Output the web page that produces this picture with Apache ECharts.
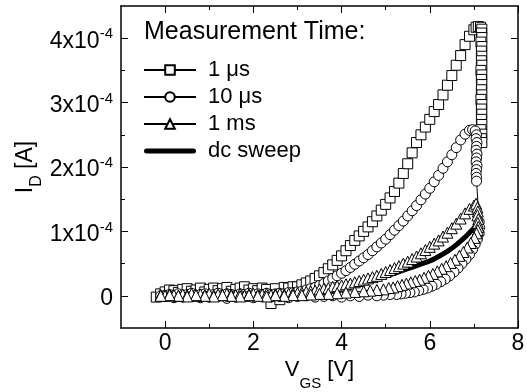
<!DOCTYPE html>
<html><head><meta charset="utf-8">
<script src="https://cdn.jsdelivr.net/npm/echarts@6/dist/echarts.min.js"></script>
<style>html,body{margin:0;padding:0;background:#fff}#c{width:527px;height:392px}</style>
</head><body><div id="c"></div>
<script>
// Drain current I_D in units of 1e-4 A versus gate voltage V_GS [V]
const seriesNames = ['1 \u03bcs', '10 \u03bcs', '1 ms', 'dc sweep'];
const xTicks = [0, 2, 4, 6, 8];
const xMinor = [1, 3, 5, 7];
const yTicks = [0, 1, 2, 3, 4];
const yMinor = [0.5, 1.5, 2.5, 3.5];

const sq1us = [
[-0.2,-0.02],[-0.1,0.03],[0.0,0.06],[0.1,0.09],[0.2,0.08],[0.3,0.05],[0.4,0.10],[0.5,0.11],[0.6,0.07],[0.7,0.09],[0.8,0.12],[0.9,0.06],[1.0,0.10],[1.1,0.12],[1.2,0.08],[1.3,0.11],[1.4,0.13],[1.5,0.07],[1.6,0.10],[1.7,0.12],[1.8,0.14],[1.9,0.09],[2.0,0.11],[2.1,0.08],[2.2,0.12],[2.3,0.10],[2.4,-0.12],[2.5,0.11],[2.6,-0.06],[2.7,0.13],[2.8,0.12],[2.9,0.14],
[3.0,0.14],[3.1,0.17],[3.2,0.20],[3.3,0.23],[3.4,0.27],[3.5,0.31],[3.6,0.36],[3.7,0.42],[3.8,0.48],[3.9,0.55],[4.0,0.62],[4.1,0.70],[4.2,0.78],[4.3,0.86],[4.4,0.93],[4.5,1.00],[4.6,1.07],[4.7,1.15],[4.8,1.24],[4.9,1.33],[5.0,1.42],[5.1,1.52],[5.2,1.62],[5.3,1.75],[5.4,1.90],[5.5,2.05],[5.6,2.22],[5.7,2.38],[5.8,2.50],[5.9,2.62],[6.0,2.74],[6.1,2.86],[6.2,2.97],[6.3,3.12],[6.4,3.27],[6.5,3.42],[6.6,3.58],[6.7,3.73],[6.8,3.90],[6.9,4.03],[7.0,4.13],[7.05,4.17],[7.1,4.18],[7.15,4.17],[7.18,4.14],
[7.17,4.08],[7.18,4.01],[7.16,3.94],[7.18,3.87],[7.17,3.80],[7.18,3.72],[7.17,3.65],[7.18,3.58],[7.16,3.50],[7.18,3.43],[7.17,3.36],[7.18,3.28],[7.17,3.20],[7.18,3.12],[7.16,3.05],[7.18,2.97],[7.17,2.90],[7.18,2.82],[7.17,2.74],[7.18,2.66],[7.16,2.58],[7.18,2.51],[7.17,2.44],[7.18,2.38]
];

const ci10us = [
[-0.1,0.00],[0.0,0.01],[0.1,0.02],[0.2,0.00],[0.3,0.03],[0.4,0.01],[0.5,0.02],[0.6,0.04],[0.7,0.01],[0.8,0.02],[0.9,0.03],[1.0,0.00],[1.1,0.02],[1.2,0.04],[1.3,0.01],[1.4,0.03],[1.5,0.02],[1.6,0.00],[1.7,0.03],[1.8,0.02],[1.9,0.04],[2.0,0.01],[2.1,0.03],[2.2,0.02],[2.3,0.04],[2.4,0.02],[2.5,0.03],[2.6,0.04],[2.7,0.03],[2.8,0.05],[2.9,0.05],
[3.0,0.06],[3.1,0.07],[3.2,0.09],[3.3,0.11],[3.4,0.13],[3.5,0.16],[3.6,0.19],[3.7,0.23],[3.8,0.27],[3.9,0.31],[4.0,0.35],[4.1,0.39],[4.2,0.44],[4.3,0.49],[4.4,0.54],[4.5,0.59],[4.6,0.64],[4.7,0.70],[4.8,0.76],[4.9,0.82],[5.0,0.88],[5.1,0.95],[5.2,1.02],[5.3,1.09],[5.4,1.16],[5.5,1.24],[5.6,1.32],[5.7,1.40],[5.8,1.49],[5.9,1.58],[6.0,1.67],[6.1,1.77],[6.2,1.87],[6.3,1.98],[6.4,2.08],[6.5,2.19],[6.6,2.30],[6.7,2.42],[6.8,2.51],[6.9,2.57],[6.97,2.58],[7.03,2.56],
[7.06,2.50],[7.05,2.44],[7.07,2.38],[7.06,2.32],[7.05,2.26],[7.07,2.20],[7.06,2.14],[7.05,2.08],[7.07,2.02],[7.06,1.96],[7.05,1.90],[7.06,1.84],[7.06,1.78],
[7.12,1.15],[7.13,1.06],[7.12,0.97],[7.08,0.88],[7.03,0.80],[6.97,0.72],[6.90,0.64],[6.82,0.57],[6.73,0.50],[6.64,0.43],[6.55,0.37],[6.45,0.31],[6.35,0.26],[6.25,0.22],[6.15,0.18],[6.05,0.15],[5.95,0.12],[5.85,0.10],[5.75,0.08],[5.65,0.06],[5.55,0.05],[5.45,0.04],[5.35,0.03],[5.25,0.02],[5.1,0.02],[4.95,0.01],[4.8,0.00],[4.6,0.01],[4.4,-0.01],[4.2,0.00],[4.0,-0.02],[3.8,0.00],[3.6,-0.01],[3.4,-0.02],[3.2,0.00],[3.0,-0.01],[2.8,-0.03],[2.6,-0.01],[2.4,-0.02],[2.2,0.00],[2.0,-0.03],[1.8,-0.01],[1.6,-0.02],[1.4,-0.04],[1.2,-0.01],[1.0,-0.02],[0.8,-0.03],[0.6,-0.01],[0.4,-0.02],[0.2,-0.03],[0.0,-0.01]
];

const tri1ms = [
[-0.1,0.01],[0.0,0.00],[0.1,0.02],[0.2,0.01],[0.3,0.00],[0.4,0.02],[0.5,0.01],[0.6,0.03],[0.7,0.00],[0.8,0.02],[0.9,0.01],[1.0,0.03],[1.1,0.00],[1.2,0.02],[1.3,0.01],[1.4,0.03],[1.5,0.02],[1.6,0.01],[1.7,0.03],[1.8,0.00],[1.9,0.02],[2.0,0.03],[2.1,0.01],[2.2,0.02],[2.3,0.03],[2.4,0.01],[2.5,0.02],[2.6,0.03],[2.7,0.02],[2.8,0.03],[2.9,0.04],
[3.0,0.04],[3.1,0.05],[3.2,0.06],[3.3,0.07],[3.4,0.08],[3.5,0.10],[3.6,0.11],[3.7,0.12],[3.8,0.14],[3.9,0.15],[4.0,0.16],[4.1,0.18],[4.2,0.19],[4.3,0.21],[4.4,0.23],[4.5,0.25],[4.6,0.27],[4.7,0.29],[4.8,0.31],[4.9,0.34],[5.0,0.37],[5.1,0.40],[5.2,0.43],[5.3,0.46],[5.4,0.50],[5.5,0.53],[5.6,0.57],[5.7,0.61],[5.8,0.66],[5.9,0.71],[6.0,0.76],[6.1,0.81],[6.2,0.86],[6.3,0.92],[6.4,0.98],[6.5,1.05],[6.6,1.12],[6.7,1.20],[6.8,1.28],[6.9,1.35],[7.0,1.40],[7.05,1.43],
[7.08,1.37],[7.09,1.31],[7.08,1.25],[7.10,1.19],[7.09,1.13],[7.10,1.07],[7.09,1.02],
[7.06,0.97],[7.01,0.90],[6.93,0.82],[6.85,0.75],[6.76,0.68],[6.67,0.62],[6.57,0.56],[6.47,0.51],[6.37,0.46],[6.27,0.42],[6.17,0.38],[6.07,0.34],[5.97,0.31],[5.87,0.28],[5.77,0.25],[5.67,0.23],[5.57,0.21],[5.47,0.19],[5.37,0.17],[5.27,0.15],[5.17,0.13],[5.07,0.12],[4.95,0.10],[4.8,0.09],[4.65,0.08],[4.5,0.07],[4.3,0.06],[4.1,0.05],[3.9,0.04],[3.7,0.03],[3.5,0.03],[3.3,0.02],[3.1,0.01],[2.9,0.01],[2.7,0.00],[2.5,0.01],[2.3,-0.01],[2.1,0.00],[1.9,0.01],[1.7,-0.01],[1.5,0.00],[1.3,0.01],[1.1,-0.01],[0.9,0.00],[0.7,0.01],[0.5,-0.01],[0.3,0.00],[0.1,0.01],[-0.1,0.00]
];

const dcSweep = [
[-0.1,0.0],[0.5,0.0],[1.0,0.0],[1.5,0.005],[2.0,0.01],[2.5,0.02],[3.0,0.04],[3.25,0.06],[3.5,0.08],[3.75,0.11],[4.0,0.14],[4.25,0.17],[4.5,0.21],[4.75,0.26],[5.0,0.31],[5.25,0.36],[5.5,0.42],[5.75,0.48],[6.0,0.54],[6.2,0.61],[6.4,0.69],[6.6,0.79],[6.8,0.91],[6.9,0.98],[7.0,1.05],[7.05,1.1]
];

const FONT = '"Liberation Sans", Arial, Helvetica, sans-serif';
const BLACK = '#000';

function xAx(pos, major, showLine) {
  return {
    type: 'value', position: pos, min: -1, max: 8,
    axisLine: { show: showLine, onZero: false, lineStyle: { color: BLACK, width: 1.5 } },
    axisTick: { show: true, inside: true, length: major ? 7 : 4, customValues: major ? xTicks : xMinor, lineStyle: { color: BLACK, width: 1 } },
    axisLabel: { show: false },
    splitLine: { show: false }
  };
}
function yAx(pos, major, showLine) {
  return {
    type: 'value', position: pos, min: -0.5, max: 4.5,
    axisLine: { show: showLine, onZero: false, lineStyle: { color: BLACK, width: 1.5 } },
    axisTick: { show: true, inside: true, length: major ? 7 : 4, customValues: major ? yTicks : yMinor, lineStyle: { color: BLACK, width: 1 } },
    axisLabel: { show: false },
    splitLine: { show: false }
  };
}

const xMain = xAx('bottom', true, true);
xMain.axisLabel = { show: true, customValues: xTicks, margin: 4, fontSize: 23, color: BLACK, fontFamily: FONT };
xMain.name = '{m|V}{sub|GS}{m| [V]}';
xMain.nameLocation = 'middle';
xMain.nameGap = 31;
xMain.nameMoveOverlap = false;
xMain.nameTextStyle = {
  color: BLACK, fontFamily: FONT,
  rich: {
    m: { fontSize: 22, lineHeight: 22, verticalAlign: 'top', fontFamily: FONT, color: BLACK },
    sub: { fontSize: 15, lineHeight: 15, padding: [17, 0, 0, 0], verticalAlign: 'top', fontFamily: FONT, color: BLACK }
  }
};

const yMain = yAx('left', true, true);
yMain.axisLabel = {
  show: true, customValues: yTicks, margin: 8, color: BLACK, fontFamily: FONT,
  formatter: function (v) { return v === 0 ? '{n|0}' : '{n|' + v + 'x10}{sup|-4}'; },
  rich: {
    n: { fontSize: 23, lineHeight: 23, padding: [3, 0, 0, 0], verticalAlign: 'top', fontFamily: FONT, color: BLACK },
    sup: { fontSize: 15, lineHeight: 15, verticalAlign: 'top', fontFamily: FONT, color: BLACK }
  }
};
yMain.name = '{m|I}{sub|D}{m| [A]}';
yMain.nameLocation = 'middle';
yMain.nameRotate = 90;
yMain.nameGap = 84;
yMain.nameMoveOverlap = false;
yMain.nameTextStyle = {
  color: BLACK, fontFamily: FONT,
  rich: {
    m: { fontSize: 23, lineHeight: 23, verticalAlign: 'top', fontFamily: FONT, color: BLACK },
    sub: { fontSize: 16, lineHeight: 16, padding: [15, 0, 0, 0], verticalAlign: 'top', fontFamily: FONT, color: BLACK }
  }
};

function markerSeries(name, data, symbol, size) {
  return {
    name: name, type: 'line', data: data, xAxisIndex: 0, yAxisIndex: 0,
    symbol: symbol, symbolSize: size, showSymbol: true, showAllSymbol: true,
    lineStyle: { color: BLACK, width: 1 },
    itemStyle: { color: '#fff', borderColor: BLACK, borderWidth: 1 },
    emphasis: { disabled: true }, animation: false, silent: true
  };
}

const option = {
  animation: false,
  backgroundColor: '#fff',
  textStyle: { fontFamily: FONT, color: BLACK },
  title: {
    text: 'Measurement Time:', left: 144, top: 20, padding: 0,
    textStyle: { fontSize: 25, fontWeight: 'normal', color: BLACK, fontFamily: FONT }
  },
  legend: {
    orient: 'vertical', left: 143, top: 59, padding: 0, itemGap: 5,
    itemWidth: 52, itemHeight: 12, selectedMode: false, symbolKeepAspect: true,
    textStyle: { fontSize: 22, lineHeight: 22, color: BLACK, fontFamily: FONT, padding: [0, 0, 0, 7] },
    lineStyle: { width: 2 },
    data: [
      { name: seriesNames[0] },
      { name: seriesNames[1] },
      { name: seriesNames[2] },
      { name: seriesNames[3], icon: 'path://M2.5,0H49.5A2.5,2.5,0,0,1,49.5,5H2.5A2.5,2.5,0,0,1,2.5,0Z' }
    ]
  },
  grid: { left: 121, right: 9, top: 6, bottom: 64, containLabel: false, outerBoundsMode: 'none' },
  xAxis: [xMain, xAx('bottom', false, false), xAx('top', true, true), xAx('top', false, false)],
  yAxis: [yMain, yAx('left', false, false), yAx('right', true, true), yAx('right', false, false)],
  series: [
    markerSeries(seriesNames[0], sq1us, 'rect', 10),
    markerSeries(seriesNames[1], ci10us, 'circle', 10),
    markerSeries(seriesNames[2], tri1ms, 'triangle', 11),
    {
      name: seriesNames[3], type: 'line', data: dcSweep, xAxisIndex: 0, yAxisIndex: 0,
      symbol: 'none', showSymbol: false, smooth: 0.3,
      lineStyle: { color: BLACK, width: 5, cap: 'round' },
      itemStyle: { color: BLACK },
      emphasis: { disabled: true }, animation: false, silent: true
    }
  ]
};

const chart = echarts.init(document.getElementById('c'), null, { renderer: 'canvas' });
chart.setOption(option);
</script>
</body></html>
